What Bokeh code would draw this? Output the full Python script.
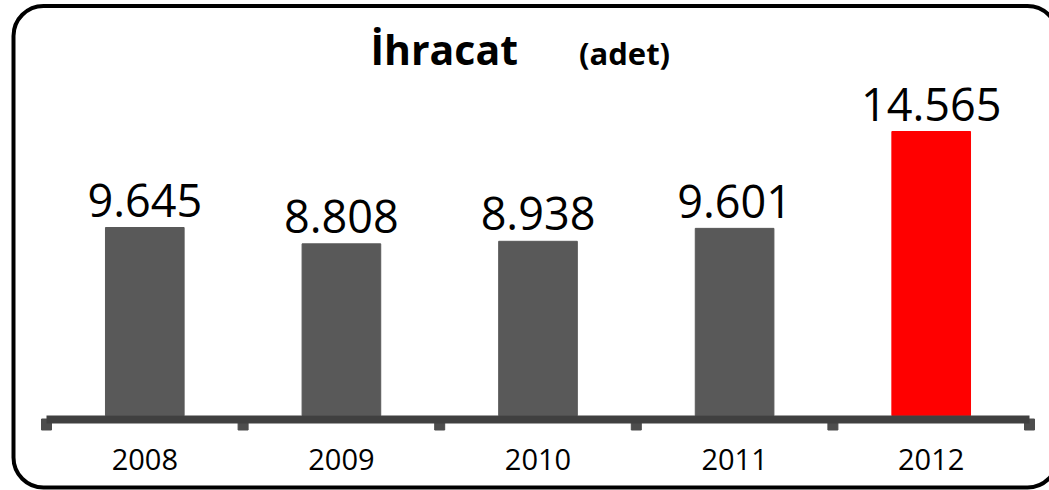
from bokeh.plotting import figure
from bokeh.models import Range1d, BoxAnnotation, ColumnDataSource
from bokeh.core.properties import value
from bokeh.embed import file_html
from bokeh.resources import INLINE

# ---- data ----
years = ["2008", "2009", "2010", "2011", "2012"]
exports = [9645, 8808, 8938, 9601, 14565]
bar_colors = ["#595959", "#595959", "#595959", "#595959", "#FF0000"]
title_main = "İhracat"
title_unit = "(adet)"

# ---- geometry (canvas pixels) ----
W, H = 1049, 490
PX_PER_CAT = 196.6
UPX = 1.0 / PX_PER_CAT          # x data units per pixel
UPP = 51.25                     # y data units per pixel
BASE_PX = 415.2                 # canvas y of value 0
x_start = -0.5 - 46 * UPX
x_end = x_start + W * UPX
y_end = BASE_PX * UPP
y_start = y_end - H * UPP
BL = 0.43                       # alphabetic-baseline correction (em)

idx = list(range(len(years)))
labels = [f"{v:,}".replace(",", ".") for v in exports]
src = ColumnDataSource(dict(x=idx, top=exports, color=bar_colors,
                            label=labels, year=years))

p = figure(width=W, height=H, output_backend="svg", toolbar_location=None,
           x_range=Range1d(x_start, x_end), y_range=Range1d(y_start, y_end),
           x_axis_type=None, y_axis_type=None, min_border=0)
p.grid.visible = False
p.outline_line_color = None
p.background_fill_color = "white"
p.border_fill_color = "white"

# rounded frame
p.add_layout(BoxAnnotation(left=x_start + 13 * UPX, right=x_start + 1057 * UPX,
                           top=y_end - 5.5 * UPP, bottom=y_end - 487 * UPP,
                           fill_color=None, fill_alpha=0, line_color="black",
                           line_alpha=1.0, line_width=4, border_radius=30,
                           level="underlay"))

# bars
p.vbar(x="x", top="top", bottom=0, width=0.4, color="color", source=src)

# category boundary ticks and axis line
bounds = [i - 0.5 for i in range(len(years) + 1)]
p.rect(x=bounds, y=[-8.8 * UPP] * len(bounds), width=10, height=11,
       width_units="screen", height_units="screen", color="#4d4d4d")
p.segment(x0=[-0.5], x1=[len(years) - 0.5], y0=[-3.8 * UPP], y1=[-3.8 * UPP],
          line_color="#404040", line_width=8)

# value labels
p.text(x="x", y="top", text="label", source=src, text_align="center",
       text_baseline="alphabetic", y_offset=-8 - BL * 45,
       text_font=value("Open Sans"), text_font_size="45px", text_color="black")

# category labels
p.text(x="x", y=0, text="year", source=src, text_align="center",
       text_baseline="alphabetic", y_offset=56 - BL * 29,
       text_font=value("Open Sans"), text_font_size="29px", text_color="black")

# title
p.text(x=[2], y=[y_end], text=[title_main], text_align="right",
       text_baseline="alphabetic", x_offset=-20, y_offset=66 - BL * 41,
       text_font=value("Open Sans"), text_font_style="bold",
       text_font_size="41px", text_color="black")
p.text(x=[2], y=[y_end], text=[title_unit], text_align="left",
       text_baseline="alphabetic", x_offset=41, y_offset=66 - BL * 31,
       text_font=value("Open Sans"), text_font_style="bold",
       text_font_size="31px", text_color="black")

open("out.html", "w").write(file_html(p, INLINE))
